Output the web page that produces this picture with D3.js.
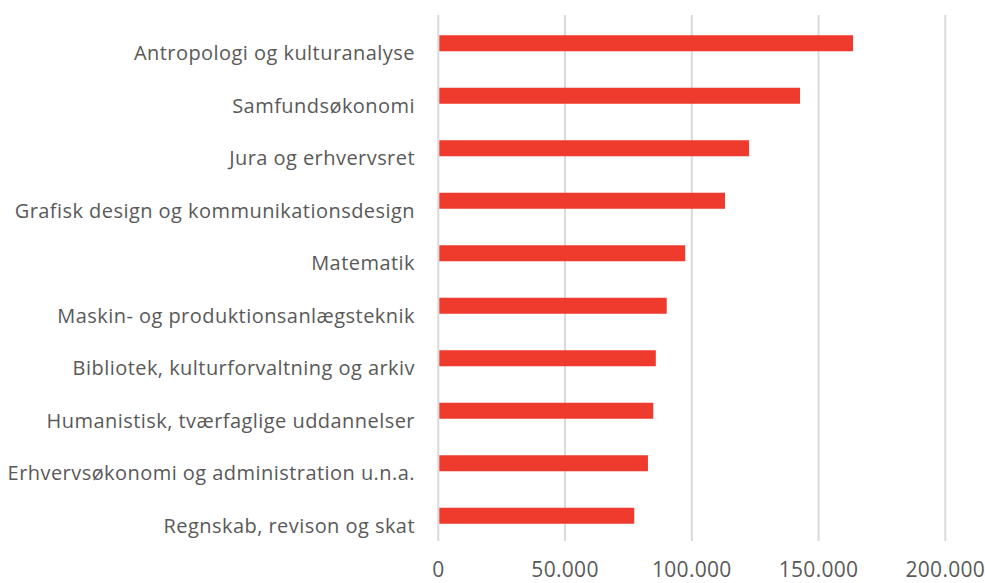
<!DOCTYPE html>
<html>
<head>
<meta charset="utf-8">
<script src="https://cdn.jsdelivr.net/npm/d3@7"></script>
<style>
    body { margin: 0; background: #fff; }
    svg text { font-family: "Open Sans", "Liberation Sans", sans-serif; fill: #595959; }
</style>
</head>
<body>
<svg id="chart" width="985" height="583"></svg>
<script>
// DATA
const categories = [
    "Antropologi og kulturanalyse",
    "Samfundsøkonomi",
    "Jura og erhvervsret",
    "Grafisk design og kommunikationsdesign",
    "Matematik",
    "Maskin- og produktionsanlægsteknik",
    "Bibliotek, kulturforvaltning og arkiv",
    "Humanistisk, tværfaglige uddannelser",
    "Erhvervsøkonomi og administration u.n.a.",
    "Regnskab, revison og skat"
];
const values = [163600, 142700, 122600, 113100, 97400, 90100, 85800, 84800, 82700, 77300];
const tickValues = [0, 50000, 100000, 150000, 200000];

const BAR_COLOR = "#ee3b2e";
const GRID_COLOR = "#d9d9d9";

const svg = d3.select("#chart");

const x = d3.scaleLinear().domain([0, 200000]).range([438.3, 945.3]);
const y = d3.scaleBand().domain(categories).range([17, 542])
    .paddingInner(0.695)
    .paddingOuter(0.3475);

const fmt = d => d3.format(",")(d).replace(/,/g, ".");

// GRIDLINES
svg.append("g")
    .selectAll("line")
    .data(tickValues)
    .enter().append("line")
    .attr("x1", d => x(d))
    .attr("x2", d => x(d))
    .attr("y1", 15)
    .attr("y2", 541)
    .attr("stroke", GRID_COLOR)
    .attr("stroke-width", 2);

// BARS
svg.append("g")
    .selectAll("rect")
    .data(values)
    .enter().append("rect")
    .attr("x", x(0) + 1)
    .attr("y", (d, i) => y(categories[i]))
    .attr("width", d => x(d) - x(0) - 1)
    .attr("height", y.bandwidth())
    .attr("fill", BAR_COLOR);

// CATEGORY LABELS
svg.append("g")
    .selectAll("text")
    .data(categories)
    .enter().append("text")
    .attr("x", 415)
    .attr("y", d => y(d) + y.bandwidth() / 2 + 17)
    .attr("text-anchor", "end")
    .attr("font-size", "20px")
    .attr("letter-spacing", "0.45px")
    .text(d => d);

// X TICK LABELS
svg.append("g")
    .selectAll("text")
    .data(tickValues)
    .enter().append("text")
    .attr("x", d => x(d))
    .attr("y", 577)
    .attr("text-anchor", "middle")
    .attr("font-size", "21px")
    .attr("letter-spacing", "0.3px")
    .text(d => fmt(d));
</script>
</body>
</html>
